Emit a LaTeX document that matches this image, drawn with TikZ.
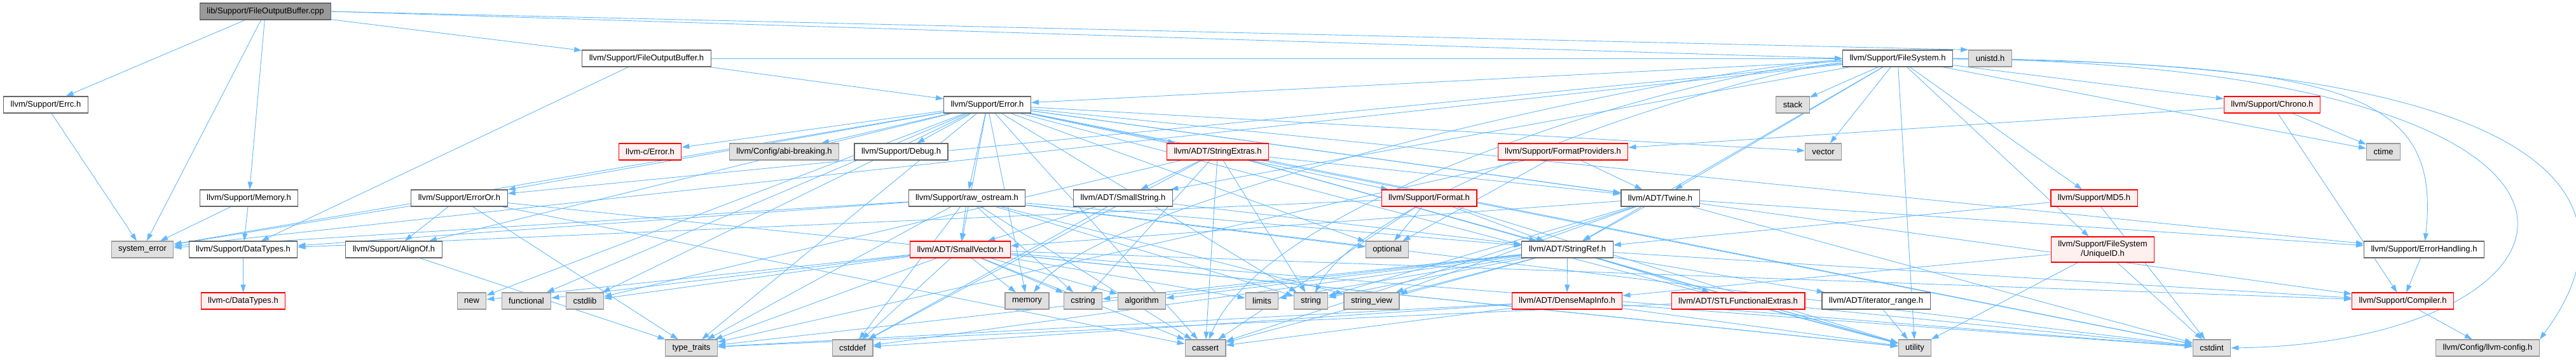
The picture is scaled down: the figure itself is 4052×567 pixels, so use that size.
\documentclass[tikz,border=0pt]{standalone}
\usepackage{fontspec}
\setmainfont{Liberation Sans}
\usetikzlibrary{arrows.meta}
\definecolor{doxEdge}{RGB}{99,184,255}
\definecolor{doxRoot}{RGB}{153,153,153}
\definecolor{doxLine}{RGB}{102,102,102}
\definecolor{doxSys}{RGB}{224,224,224}
\definecolor{doxSysLine}{RGB}{153,153,153}
\definecolor{doxTrunc}{RGB}{255,240,240}
\pgfdeclarelayer{bg}
\pgfsetlayers{bg,main}

\begin{document}
\begin{tikzpicture}[x=1pt, y=-1pt,
    box/.style={rectangle, line width=1.1pt, minimum height=26pt,
                inner xsep=11pt, inner ysep=0pt, font=\fontsize{13}{15}\selectfont},
    root/.style={box, draw=doxLine, fill=doxRoot},
    hdr/.style={box, draw=doxLine, fill=white},
    trunc/.style={box, draw=red, fill=doxTrunc},
    sys/.style={box, draw=doxSysLine, fill=doxSys},
    inc/.style={-{Triangle[length=12pt, width=8pt]}, doxEdge, line width=0.9pt}
  ]
  \useasboundingbox (0,0) rectangle (4052,567);

  % row 0 / 1
  \node[root]  (cpp)      at (417.5,18)  {lib/Support/FileOutputBuffer.cpp};
  \node[hdr]   (fob)      at (1017,92)   {llvm/Support/FileOutputBuffer.h};
  \node[hdr]   (filesys)  at (2985,92)   {llvm/Support/FileSystem.h};
  \node[sys]   (unistd)   at (3130.5,92) {unistd.h};
  % row 2
  \node[hdr]   (errc)     at (72,165)    {llvm/Support/Errc.h};
  \node[hdr]   (error)    at (1553,165)  {llvm/Support/Error.h};
  \node[sys]   (stack)    at (2820,165)  {stack};
  \node[trunc] (chrono)   at (3574,165)  {llvm/Support/Chrono.h};
  % row 3
  \node[trunc] (cerror)   at (1022.5,239) {llvm-c/Error.h};
  \node[sys]   (abibreak) at (1233.5,239) {llvm/Config/abi-breaking.h};
  \node[hdr]   (debug)    at (1417.5,239) {llvm/Support/Debug.h};
  \node[trunc] (strextras) at (1915.5,239) {llvm/ADT/StringExtras.h};
  \node[trunc] (fmtprov)  at (2458.5,239) {llvm/Support/FormatProviders.h};
  \node[sys]   (vector)   at (2868,239)  {vector};
  \node[sys]   (ctime)    at (3749,239)  {ctime};
  % row 4
  \node[hdr]   (memh)     at (391.5,312) {llvm/Support/Memory.h};
  \node[hdr]   (erroror)  at (722.5,312) {llvm/Support/ErrorOr.h};
  \node[hdr]   (rawos)    at (1521,312)  {llvm/Support/raw\_ostream.h};
  \node[hdr]   (smallstr) at (1766.5,312) {llvm/ADT/SmallString.h};
  \node[trunc] (format)   at (2248,312)  {llvm/Support/Format.h};
  \node[hdr]   (twine)    at (2611.5,312) {llvm/ADT/Twine.h};
  \node[trunc] (md5)      at (3294,312)  {llvm/Support/MD5.h};
  % row 5
  \node[sys]   (syserr)   at (224,393)   {system\_error};
  \node[hdr]   (datatypes) at (382.5,393) {llvm/Support/DataTypes.h};
  \node[hdr]   (alignof)  at (619.5,393) {llvm/Support/AlignOf.h};
  \node[trunc] (smallvec) at (1510.5,393) {llvm/ADT/SmallVector.h};
  \node[sys]   (optional) at (2182,393)  {optional};
  \node[hdr]   (strref)   at (2465.5,393) {llvm/ADT/StringRef.h};
  \node[trunc, align=center, minimum height=40pt] (uniqueid) at (3307.5,393)
        {llvm/Support/FileSystem\\/UniqueID.h};
  \node[hdr]   (errhandl) at (3813,393)  {llvm/Support/ErrorHandling.h};
  % row 6
  \node[trunc] (cdatatypes) at (382.5,474) {llvm-c/DataTypes.h};
  \node[sys]   (new)      at (742,474)   {new};
  \node[sys]   (functional) at (828,474) {functional};
  \node[sys]   (cstdlib)  at (920,474)   {cstdlib};
  \node[sys]   (memory)   at (1615.5,474) {memory};
  \node[sys]   (cstring)  at (1703.5,474) {cstring};
  \node[sys]   (algorithm) at (1796,474) {algorithm};
  \node[sys]   (limits)   at (1985,474)  {limits};
  \node[sys]   (string)   at (2062,474)  {string};
  \node[sys]   (strview)  at (2157.5,474) {string\_view};
  \node[trunc] (densemap) at (2465,474)  {llvm/ADT/DenseMapInfo.h};
  \node[trunc] (stlfunc)  at (2734,474)  {llvm/ADT/STLFunctionalExtras.h};
  \node[hdr]   (iterrange) at (2951,474) {llvm/ADT/iterator\_range.h};
  \node[trunc] (compiler) at (3779.5,474) {llvm/Support/Compiler.h};
  % row 7
  \node[sys]   (typetraits) at (1087.5,548) {type\_traits};
  \node[sys]   (cstddef)  at (1341,548)  {cstddef};
  \node[sys]   (cassert)  at (1896,548)  {cassert};
  \node[sys]   (utility)  at (3012,548)  {utility};
  \node[sys]   (cstdint)  at (3479,548)  {cstdint};
  \node[sys]   (llvmconf) at (3913,548)  {llvm/Config/llvm-config.h};

  \begin{pgfonlayer}{bg}
  \foreach \t in {fob,errc,memh,syserr} \draw[inc] (cpp) -- (\t);
  \draw[inc] (cpp.east) -- (filesys.west);
  \draw[inc] (cpp.east) -- (unistd.north west);
  \draw[inc] (errc) -- (syserr);
  \foreach \t in {datatypes,syserr} \draw[inc] (memh) -- (\t);
  \draw[inc] (datatypes) -- (cdatatypes);
  \foreach \t in {datatypes,error,filesys} \draw[inc] (fob) -- (\t);
  \foreach \t in {cerror,abibreak,debug,alignof,erroror,rawos,strextras,smallvec,
      format,twine,errhandl,compiler,cassert,cstdint,cstdlib,functional,memory,
      new,optional,string,syserr,typetraits,utility,vector}
    \draw[inc] (error) -- (\t);
  \foreach \t in {alignof,cassert,syserr,typetraits,utility} \draw[inc] (erroror) -- (\t);
  \draw[inc] (alignof) -- (typetraits);
  \foreach \t in {smallvec,strref,datatypes,cassert,cstddef,cstdint,cstring,optional,
      string,strview,syserr,typetraits}
    \draw[inc] (rawos) -- (\t);
  \foreach \t in {smallvec,strref,cstddef} \draw[inc] (smallstr) -- (\t);
  \foreach \t in {smallstr,strref,twine,cassert,cstddef,cstdint,cstdlib,cstring,
      string,utility}
    \draw[inc] (strextras) -- (\t);
  \foreach \t in {compiler,algorithm,cassert,cstddef,cstdint,cstdlib,cstring,
      functional,limits,memory,new,typetraits,utility}
    \draw[inc] (smallvec) -- (\t);
  \foreach \t in {smallvec,strref,errhandl,cassert,cstdint,string,strview}
    \draw[inc] (twine) -- (\t);
  \foreach \t in {densemap,stlfunc,iterrange,compiler,algorithm,cassert,cstddef,
      cstring,limits,string,strview,typetraits,utility}
    \draw[inc] (strref) -- (\t);
  \foreach \t in {cassert,cstddef,cstdint,typetraits,utility} \draw[inc] (densemap) -- (\t);
  \foreach \t in {cstdint,typetraits,utility} \draw[inc] (stlfunc) -- (\t);
  \draw[inc] (iterrange) -- (utility);
  \foreach \t in {strref,datatypes,cassert,optional,utility} \draw[inc] (format) -- (\t);
  \foreach \t in {twine,optional,typetraits} \draw[inc] (fmtprov) -- (\t);
  \foreach \t in {strref,cstdint} \draw[inc] (md5) -- (\t);
  \foreach \t in {densemap,cstdint,utility} \draw[inc] (uniqueid) -- (\t);
  \foreach \t in {compiler,fmtprov,ctime} \draw[inc] (chrono) -- (\t);
  \draw[inc] (errhandl) -- (compiler);
  \draw[inc] (compiler) -- (llvmconf);
  \foreach \t in {smallstr,strref,twine,chrono,error,erroror,uniqueid,md5,
      ctime,stack,syserr,vector,utility}
    \draw[inc] (filesys) -- (\t);
  \draw[inc] (filesys) .. controls (2700,100) and (1750,300) .. (memory);
  \draw[inc] (filesys) .. controls (2750,110) and (2150,300) .. (string);
  \draw[inc] (filesys) .. controls (2700,105) and (2000,300) .. (cassert);
  \draw[inc] (filesys) .. controls (3700,100) and (3840,150) .. (errhandl);
  \draw[inc] (filesys.east) .. controls (4250,100) and (4080,420) .. (llvmconf.north east);
  \draw[inc] (filesys.east) .. controls (4250,110) and (4100,540) .. (cstdint.east);
  \end{pgfonlayer}
\end{tikzpicture}
\end{document}
